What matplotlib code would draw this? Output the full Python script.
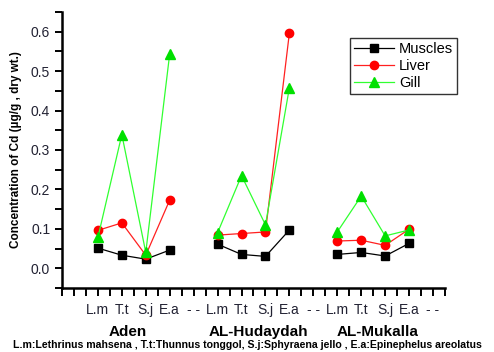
import numpy as np
import matplotlib.pyplot as plt
from matplotlib.ticker import MultipleLocator

# species codes on the x axis, three sites, "--" is the spacer between sites
tick_labels = ["L.m", "T.t", "S.j", "E.a", "- -",
               "L.m", "T.t", "S.j", "E.a", "- -",
               "L.m", "T.t", "S.j", "E.a", "- -"]
sites = ["Aden", "AL-Hudaydah", "AL-Mukalla"]

# Cd concentration (ug/g dry wt.), nan = spacer
muscles = [0.051, 0.033, 0.023, 0.046, np.nan,
           0.061, 0.035, 0.030, 0.097, np.nan,
           0.035, 0.040, 0.031, 0.063, np.nan]
liver = [0.096, 0.115, 0.033, 0.173, np.nan,
         0.084, 0.088, 0.092, 0.597, np.nan,
         0.069, 0.071, 0.058, 0.099, np.nan]
gill = [0.078, 0.339, 0.040, 0.544, np.nan,
        0.090, 0.235, 0.110, 0.458, np.nan,
        0.092, 0.183, 0.082, 0.097, np.nan]

footnote = ("L.m:Lethrinus mahsena , T.t:Thunnus tonggol, "
            "S.j:Sphyraena jello , E.a:Epinephelus areolatus")

plt.rcParams['font.family'] = ['Liberation Sans', 'DejaVu Sans']

fig = plt.figure(figsize=(4.94, 3.52), dpi=100)
ax = fig.add_axes([0.1255, 0.182, 0.7753, 0.784])

x = np.arange(1, len(tick_labels) + 1)
ax.plot(x, muscles, color='black', lw=0.9, marker='s', ms=5.5, label='Muscles')
ax.plot(x, liver, color='#ff2020', lw=0.9, marker='o', ms=6,
        mfc='red', mec='red', label='Liver')
ax.plot(x, gill, color='#30ff30', lw=0.9, marker='^', ms=7,
        mfc='#00e000', mec='#00e000', label='Gill')

ax.set_xlim(-0.5, 15.5)
ax.set_ylim(-0.05, 0.65)
ax.set_xticks(x)
ax.set_xticklabels(tick_labels)
ax.xaxis.set_minor_locator(MultipleLocator(0.5))
ax.set_yticks([0.0, 0.1, 0.2, 0.3, 0.4, 0.5, 0.6])
ax.yaxis.set_minor_locator(MultipleLocator(0.05))

for s in ['top', 'right']:
    ax.spines[s].set_visible(False)
for s in ['left', 'bottom']:
    ax.spines[s].set_linewidth(1.8)

ax.tick_params(axis='both', which='both', direction='out', width=1.4,
               length=5, labelsize=10, labelcolor='#222233')
ax.tick_params(axis='x', which='both', length=6, pad=5)

ax.set_ylabel("Concentration of Cd (µg/g , dry wt.)", fontsize=8.5,
              fontweight='bold', labelpad=6)

leg = ax.legend(loc='upper left', bbox_to_anchor=(0.752, 0.906), fontsize=10.5,
                frameon=True, fancybox=False, handlelength=2.7,
                borderpad=0.3, labelspacing=0.2, handletextpad=0.35,
                borderaxespad=0)
leg.get_frame().set_edgecolor('black')
leg.get_frame().set_linewidth(1.0)

# site names under the axis
for name, px in zip(sites, [128, 258, 378]):
    fig.text(px / 494, 1 - 332 / 352, name, ha='center', va='center',
             fontsize=11, fontweight='bold')

fig.text(0.5, 1 - 345 / 352, footnote, ha='center', va='center',
         fontsize=7.6, fontweight='bold')

fig.savefig("out.png", dpi=100)
